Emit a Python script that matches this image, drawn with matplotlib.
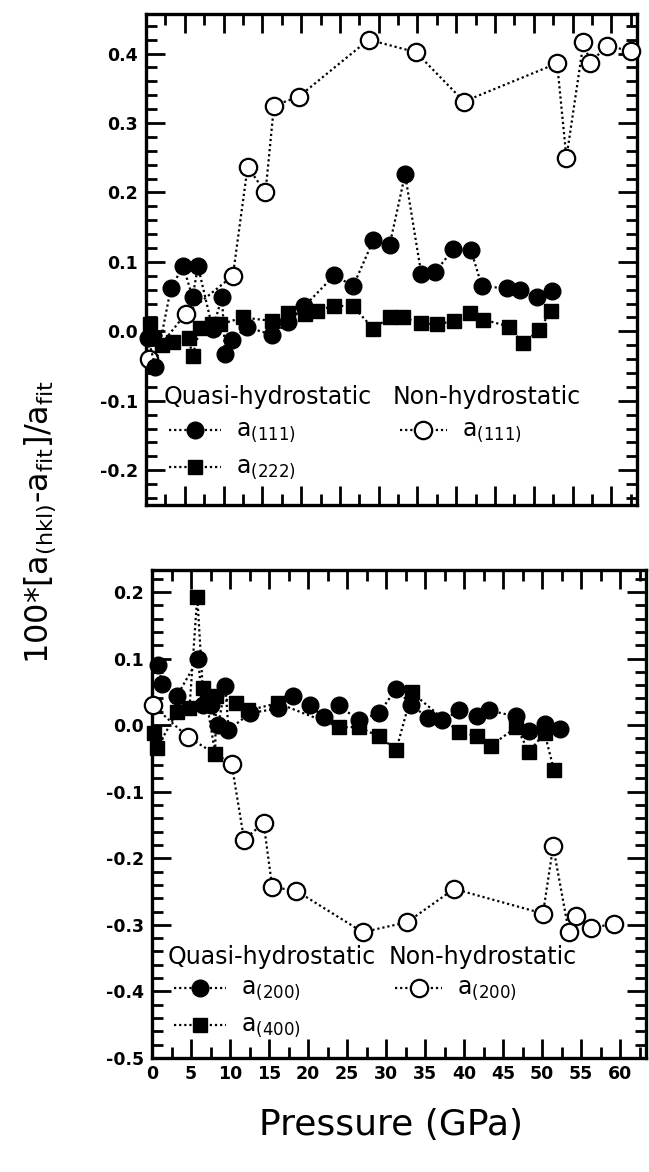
import numpy as np
import matplotlib
matplotlib.use("Agg")
import matplotlib.pyplot as plt
from matplotlib.ticker import MultipleLocator, FormatStrFormatter

# ----------- Data ----------------------------------
# top panel: (111)/(222) reflections
p_q111 = [0.3, 1.2, 3.2, 4.8, 6.0, 6.7, 8.6, 9.8, 10.2, 11.1, 13.0, 16.3, 18.3, 20.4,
          24.3, 26.7, 29.3, 31.4, 33.4, 35.5, 37.3, 39.6, 41.9, 43.3, 46.5, 48.2, 50.4, 52.3]
d_q111 = [-0.01, -0.052, 0.062, 0.094, 0.049, 0.094, 0.003, 0.050, -0.033, -0.012, 0.006,
          -0.005, 0.013, 0.036, 0.081, 0.065, 0.131, 0.124, 0.226, 0.082, 0.086, 0.118,
          0.117, 0.065, 0.062, 0.060, 0.049, 0.058]

p_q222 = [0.5, 1.0, 2.0, 3.5, 5.5, 6.0, 7.0, 8.5, 9.5, 12.5, 16.3, 18.3, 20.5, 22.0, 24.3,
          26.7, 29.3, 31.4, 33.1, 35.5, 37.5, 39.7, 41.8, 43.5, 46.8, 48.6, 50.7, 52.2]
d_q222 = [0.01, -0.01, -0.02, -0.015, -0.01, -0.035, 0.005, 0.01, 0.01, 0.02, 0.015, 0.027,
          0.025, 0.030, 0.037, 0.036, 0.004, 0.020, 0.020, 0.012, 0.010, 0.015, 0.027, 0.017,
          0.007, -0.017, 0.002, 0.030]

p_n111 = [0.4, 5.1, 11.2, 13.1, 15.4, 16.5, 19.7, 28.7, 34.8, 41.0, 53.0, 54.2, 56.4,
          57.3, 59.4, 62.5]
d_n111 = [-0.040, 0.025, 0.080, 0.237, 0.200, 0.325, 0.338, 0.420, 0.402, 0.331, 0.386,
          0.250, 0.416, 0.387, 0.411, 0.404]

# bottom panel: (200)/(400) reflections
p_q200 = [0.8, 1.3, 3.2, 5.9, 6.5, 7.5, 8.5, 9.4, 9.8, 12.6, 16.1, 18.1, 20.2, 22.0, 23.9,
          26.5, 29.1, 31.3, 33.2, 35.4, 37.1, 39.4, 41.6, 43.2, 46.7, 48.3, 50.3, 52.3]
d_q200 = [0.090, 0.062, 0.044, 0.099, 0.030, 0.030, 0.000, 0.059, -0.007, 0.018, 0.025,
          0.044, 0.030, 0.012, 0.030, 0.007, 0.018, 0.055, 0.030, 0.011, 0.007, 0.022,
          0.014, 0.022, 0.013, -0.009, 0.001, -0.006]

p_q400 = [0.3, 0.6, 3.2, 4.8, 5.8, 6.5, 7.0, 8.1, 8.2, 10.7, 12.3, 16.1, 24.0, 26.5, 29.1,
          31.3, 33.3, 39.4, 41.6, 43.4, 46.7, 48.3, 50.3, 51.5]
d_q400 = [-0.012, -0.035, 0.019, 0.025, 0.193, 0.056, 0.035, -0.043, 0.044, 0.033, 0.022,
          0.033, -0.003, -0.003, -0.017, -0.037, 0.049, -0.011, -0.016, -0.031, -0.003,
          -0.040, -0.012, -0.067]

p_n200 = [0.1, 4.6, 10.2, 11.8, 14.3, 15.4, 18.5, 27.0, 32.7, 38.7, 50.1, 51.4, 53.4,
          54.3, 56.2, 59.2]
d_n200 = [0.030, -0.018, -0.058, -0.172, -0.147, -0.243, -0.249, -0.311, -0.296, -0.246,
          -0.283, -0.182, -0.310, -0.286, -0.304, -0.299]

x_ticks = list(range(0, 65, 5))
# ---------------------------------------------------

plt.rcParams['font.family'] = ['DejaVu Sans']
plt.rcParams['mathtext.fontset'] = 'dejavusans'

LINE = dict(linestyle=(0, (1, 1.3)), linewidth=1.6, color='black')
FILLED_C = dict(marker='o', markersize=12, markerfacecolor='black', markeredgecolor='black')
FILLED_S = dict(marker='s', markersize=10, markerfacecolor='black', markeredgecolor='black')
OPEN_C = dict(marker='o', markersize=12.5, markerfacecolor='white', markeredgecolor='black',
              markeredgewidth=1.6)


def style_axes(ax, ylim, show_xlabels):
    ax.set_xlim(0, 63.3)
    ax.set_ylim(*ylim)
    ax.set_xticks(x_ticks)
    ax.xaxis.set_minor_locator(MultipleLocator(2.5))
    ax.yaxis.set_major_locator(MultipleLocator(0.1))
    ax.yaxis.set_minor_locator(MultipleLocator(0.02))
    ax.yaxis.set_major_formatter(FormatStrFormatter('%.1f'))
    ax.tick_params(which='both', direction='in', top=True, right=True, width=2.0)
    ax.tick_params(which='major', length=14)
    ax.tick_params(which='minor', length=8)
    ax.tick_params(axis='y', labelsize=12.5, pad=6)
    ax.tick_params(axis='x', labelsize=12.5, pad=5, labelbottom=show_xlabels)
    for lab in ax.get_xticklabels() + ax.get_yticklabels():
        lab.set_fontweight('bold')
    for sp in ax.spines.values():
        sp.set_linewidth(2.4)


def legend_row(ax, x0, x1, y, style, label):
    # one key entry drawn in axes fraction: dotted stroke, marker, label
    tr = ax.transAxes
    ax.plot([x0, x1], [y, y], transform=tr, clip_on=False, **LINE)
    ax.plot([(x0 + x1) / 2], [y], transform=tr, clip_on=False, linestyle='none', **style)
    ax.text(x1 + 0.03, y - 0.012, label, transform=tr, ha='left', va='baseline',
            fontsize=17)


def add_key(ax, hkl_a, hkl_b, y_title, y_rows, x_q, x_n):
    tr = ax.transAxes
    ax.text(x_q, y_title, 'Quasi-hydrostatic', transform=tr, ha='left', va='center',
            fontsize=17)
    ax.text(x_n, y_title, 'Non-hydrostatic', transform=tr, ha='left', va='center',
            fontsize=17)
    lab_a = r'a$_{\mathregular{(%s)}}$' % hkl_a
    lab_b = r'a$_{\mathregular{(%s)}}$' % hkl_b
    legend_row(ax, x_q + 0.012, x_q + 0.118, y_rows[0], FILLED_C, lab_a)
    legend_row(ax, x_q + 0.012, x_q + 0.118, y_rows[1], FILLED_S, lab_b)
    legend_row(ax, x_n + 0.014, x_n + 0.110, y_rows[0], OPEN_C, lab_a)


fig = plt.figure(figsize=(6.49, 11.72), dpi=100)
ax1 = fig.add_axes([146 / 649, 1 - 505 / 1172, 491 / 649, 491 / 1172])
ax2 = fig.add_axes([152 / 649, 1 - 1058 / 1172, 494 / 649, 488 / 1172])

# top panel
ax1.plot(p_n111, d_n111, **LINE, **OPEN_C, zorder=3, clip_on=False)
ax1.plot(p_q222, d_q222, **LINE, **FILLED_S, zorder=4, clip_on=False)
ax1.plot(p_q111, d_q111, **LINE, **FILLED_C, zorder=5, clip_on=False)
style_axes(ax1, (-0.25, 0.457), False)
add_key(ax1, '111', '222', 0.220, (0.153, 0.077), 0.035, 0.503)

# bottom panel
ax2.plot(p_n200, d_n200, **LINE, **OPEN_C, zorder=3, clip_on=False)
ax2.plot(p_q400, d_q400, **LINE, **FILLED_S, zorder=4, clip_on=False)
ax2.plot(p_q200, d_q200, **LINE, **FILLED_C, zorder=5, clip_on=False)
style_axes(ax2, (-0.5, 0.233), True)
add_key(ax2, '200', '400', 0.207, (0.143, 0.068), 0.032, 0.478)

fig.text(0.062, 0.555,
         r'100*[a$_{\mathregular{(hkl)}}$-a$_{\mathregular{fit}}$]/a$_{\mathregular{fit}}$',
         rotation=90, ha='center', va='center', fontsize=23)
fig.text(0.603, 1 - 1125 / 1172, 'Pressure (GPa)', ha='center', va='center', fontsize=26)

fig.savefig('out.png', dpi=100)
